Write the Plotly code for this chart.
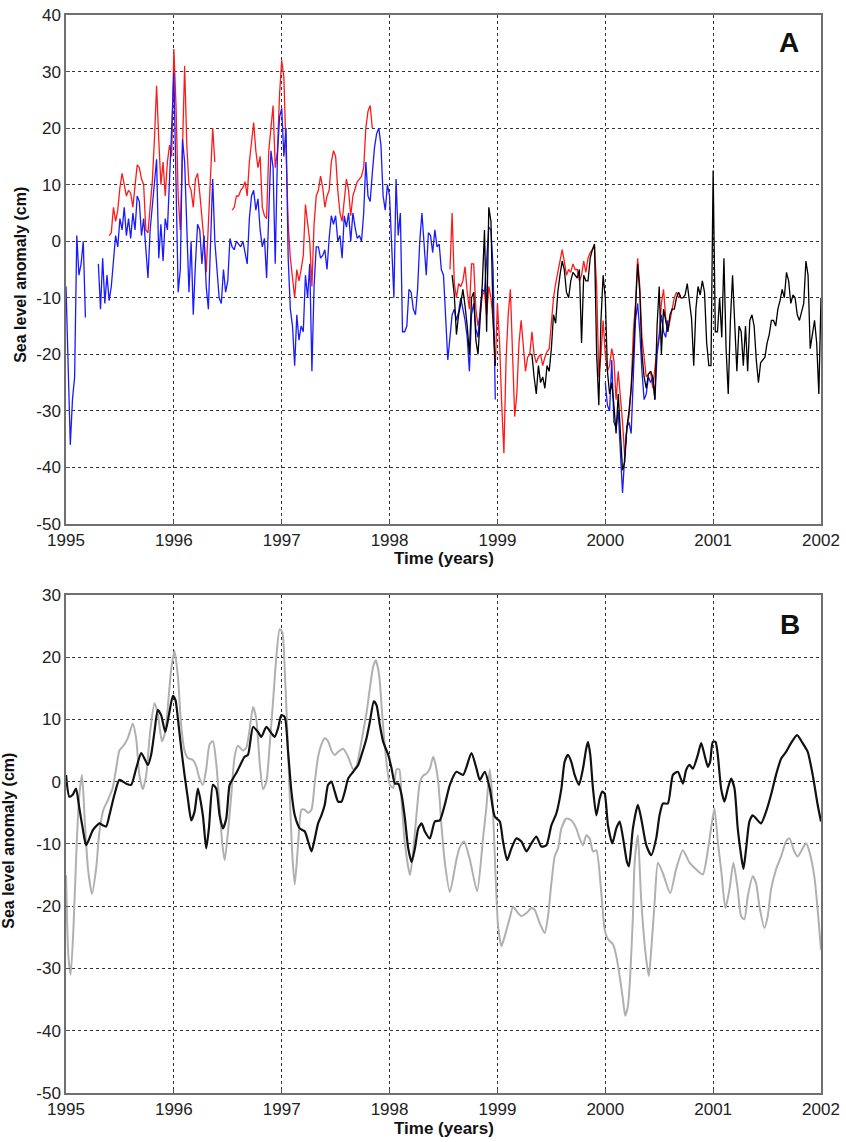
import plotly.graph_objects as go

# ---------------- Panel A : noisy series on a regular time grid ----------------
A_T0 = 1995.0      # first sample (years)
A_DT = 0.02        # sample spacing (years)

blue_a = [
    -8, -20, -36, -28, -24, 1, -6, -4, 0, -13.5,
    None, None, None, None, None, -4, -12, -3, -11, -6,
    -10.5, -8, -3.5, 1, -1, 4, 2, 6, 1, 4,
    0.5, 5, 2, 8, 7, 1, 4, -1, -6.5, 2,
    6, 10, 14.5, -3, 3, -3.5, 4, 2, 10, 20,
    29.8, 12, -9, -5, 18, 14, 3, -9, 0, -13,
    -4, 3, 2, -4, 1, -8, -12, -1, 11, 0,
    -6, -10, -11, -5, -9, -7, 0.5, -1, -1.5, 0,
    -0.5, -1, 0, -2, -4, 4, 8, 9, 5.5, 7.5,
    2, -1, 0.5, -6.5, 4, 16, 13, -4, 15, 22,
    23.5, 15, 20, -3, -12, -15, -22, -13, -17.5, -15,
    -16, -6, -10, -4, -23, -8, -1, -1, -3, -2.5,
    -1.5, -5, 0.5, 4.5, 3, 4.5, 0, 1, -3, 4.5,
    2.5, 5, 0, 5, 2.5, 0.5, 1, 0, 5, 14,
    8, 7, 12, 16.5, 19, 20, 17, 8, 5.5, 10,
    8, -2, -10, 11, 1, 5, -16, -16, -15, -8.5,
    -9, -12, -13, -8.5, 0, 5, -1, -6, 1.5, 1,
    -2, 2, -1, -0.5, -5, -6, -13.5, -21, -17, -13,
    -12, -14, -12.5, -10, -12, -14, -17, -23, -13, -11,
    -15.5, -17, -12, -8.5, -9, -3, 2.5, 2, -5, -28,
] + [None] * 50 + [
    -25, -29, -30, -21, -32, -33, -30, -37, -44.5, -38,
    -33, -32, -34, -24, -14, -11, -16, -23, -28, -27,
    -24, -25, -24, -28, -20, -17, -13, -16, -17, -14,
]

red_a = [None] * 20 + [
    1, 1.5, 6, 3.5, 5.5, 9.5, 12, 10, 8, 9,
    8.5, 6, 10, 13.5, 13, 11, 10, 2, 1.5, 6,
    10.5, 18, 27.5, 18, 10, 14, 8, 14, 17, 15,
    34, 24, 8, 2, 18, 31, 17, 10, 9, 6,
    11, 12, 8.5, 4.5, 0, -5.5, 3, 14, 20, 14,
] + [None] * 7 + [
    5.5, 6, 8, 8, 9, 9.5, 10.5, 8, 14, 18, 21, 16, 13, 15,
    6, 4.5, 4, 16, 20.5, 24, 13, 16, 26, 32,
    29, 17, 3, -3, -6, -10, -5, -7, -5, -2.5,
    6.5, 3, 0, -8, 3, 8, 9, 11.5, 9.5, 6,
    8, 9, 14, 16, 15, 9, 5, 3.5, 7.5, 11,
    9, 4.5, 8, 9.5, 10.5, 11, 11.5, 13, 20, 23,
    24, 20,
] + [None] * 35 + [
    -5, 5,
    -7.5, -10, -7.5, -8, -7, -4.5, -9, -12, -4, -4,
    -12, -15, -13, -9.5, -9, -13, -8, -10, -14, -22,
    -11, -18, -29, -37.5, -21, -13, -8.5, -19, -31, -27,
    -18, -14, -19, -23, -20.5, -20, -16, -20, -21.5, -20.5,
    -20, -22, -20.5, -19.5, -19, -15, -10, -7.5, -5.5, -4,
    -1.5, -3.5, -6, -5, -5.5, -4, -5, -5, -7, -6,
    -3.5, -5.5, -3, -2, -1.5, -1, -8, -24, -20, -14,
    -20, -23, -22, -19, -21, -28, -23, -27, -32, -38,
    -33, -31, -26, -16, -11, -3, -8, -17, -20, -24,
    -23.5, -23, -26, -22, -19, -16.5, -11, -8.5, -13.5, -16,
    -14, -11.5, -10, -9, -10, -9.5,
]

black_a = [None] * 179 + [
    -6, -9.5, -16.5, -13, -11, -8.5, -11.5, -15, -20, -10,
    -9, -17.5, -20, -13, -7.5, 2, -16, 6, 3.5, -14, -22,
] + [None] * 15 + [
    -20, -20, -24, -27, -22,
    -25, -24, -26, -22, -23, -19, -13, -14.5, -9, -6,
    -3.5, -5, -9, -10, -7, -5.5, -6, -6.5, -5, -18,
    -6, -7, -7, -3, -1.5, -0.5, -20, -29, -14, -6,
    -10, -23, -27, -25, -29, -34, -27, -33, -40.5, -39,
    -33, -30, -26, -20, -13, -4, -9, -20, -24, -26,
    -23.5, -23, -24, -28, -15, -8, -20, -12, -14, -16,
    -13, -12, -12, -10, -9, -10, -10, -9.5, -7.5, -10.5,
    -13.7, -22, -12, -8, -9.5, -7, -9, -18, -22, -22,
    12.5, -16, -16, -10, -17, -3, -19, -27, -14, -6,
    -16, -23, -15, -16, -22, -15, -23, -14, -13, -15,
    -21, -25, -21.5, -21, -20.5, -18, -16.5, -14, -14, -15,
    -12, -10.5, -8.5, -10, -5.5, -7, -11, -9.5, -10, -13,
    -14, -12.5, -11, -3.5, -6, -19, -16.5, -14, -18, -27,
    -10,
]

# ---------------- Panel B : smoothed series ----------------
years_b_black = [
    1995.000, 1995.031, 1995.062, 1995.093, 1995.124, 1995.155, 1995.186, 1995.217, 1995.248, 1995.310,
    1995.341, 1995.372, 1995.402, 1995.449, 1995.495, 1995.557, 1995.604, 1995.650, 1995.697, 1995.728,
    1995.759, 1995.789, 1995.820, 1995.851, 1995.882, 1995.920, 1995.954, 1995.991, 1996.015, 1996.037,
    1996.068, 1996.099, 1996.130, 1996.161, 1996.192, 1996.223, 1996.269, 1996.300, 1996.325, 1996.362,
    1996.393, 1996.424, 1996.455, 1996.486, 1996.517, 1996.548, 1996.585, 1996.616, 1996.656, 1996.687,
    1996.734, 1996.780, 1996.811, 1996.858, 1996.904, 1996.935, 1996.966, 1996.997, 1997.028, 1997.059,
    1997.090, 1997.121, 1997.167, 1997.214, 1997.245, 1997.276, 1997.307, 1997.337, 1997.368, 1997.399,
    1997.430, 1997.461, 1997.492, 1997.523, 1997.554, 1997.585, 1997.616, 1997.663, 1997.709, 1997.740,
    1997.786, 1997.817, 1997.854, 1997.879, 1997.910, 1997.941, 1997.988, 1998.019, 1998.050, 1998.080,
    1998.111, 1998.142, 1998.173, 1998.204, 1998.235, 1998.266, 1998.297, 1998.327, 1998.373, 1998.420,
    1998.466, 1998.512, 1998.559, 1998.620, 1998.682, 1998.759, 1998.806, 1998.836, 1998.883, 1998.929,
    1998.975, 1999.022, 1999.052, 1999.090, 1999.130, 1999.176, 1999.222, 1999.269, 1999.315, 1999.361,
    1999.407, 1999.454, 1999.500, 1999.546, 1999.593, 1999.623, 1999.654, 1999.685, 1999.716, 1999.756,
    1999.793, 1999.824, 1999.840, 1999.861, 1999.886, 1999.917, 1999.948, 1999.972, 1999.994, 2000.025,
    2000.065, 2000.102, 2000.133, 2000.170, 2000.201, 2000.219, 2000.256, 2000.302, 2000.333, 2000.380,
    2000.426, 2000.472, 2000.503, 2000.534, 2000.580, 2000.627, 2000.673, 2000.719, 2000.750, 2000.781,
    2000.812, 2000.858, 2000.889, 2000.920, 2000.951, 2000.972, 2000.997, 2001.022, 2001.043, 2001.074,
    2001.105, 2001.136, 2001.167, 2001.198, 2001.228, 2001.259, 2001.281, 2001.306, 2001.336, 2001.367,
    2001.398, 2001.444, 2001.491, 2001.537, 2001.583, 2001.630, 2001.676, 2001.722, 2001.778, 2001.830,
    2001.877, 2001.923, 2001.969, 2002.000,
]
black_b = [
    1.1, -2.4, -2.1, -1.1, -4.3, -7.5, -10.2, -9.1, -7.8, -6.7,
    -7, -7.2, -5.4, -2.1, 0.3, -0.3, -0.5, 2.1, 4.6, 3.7,
    2.7, 4.3, 8, 11.5, 10.7, 8, 10.7, 13.8, 13.1, 10.2,
    5.4, 1.1, -2.7, -6.2, -4.8, -1.1, -5.4, -10.7, -7.5, -0.5,
    -1.1, -5.4, -7.5, -5.9, -0.5, 0.5, 1.6, 2.7, 4, 4.3,
    8.8, 8, 7.2, 8.8, 7.8, 7.2, 8.6, 10.7, 10.4, 4.8,
    -1.6, -5.4, -7.5, -8, -9.6, -11.2, -9.1, -6.7, -5.4, -3.7,
    -0.5, 0, -1.6, -3.2, -3.2, -1.6, 0.5, 1.6, 2.7, 4.3,
    7, 9.6, 12.9, 12.3, 9.1, 6.4, 4.3, 2.1, -0.3, -0.3,
    -2.1, -5.9, -10.7, -12.9, -10.7, -7.5, -6.7, -8, -9.1, -6.4,
    -6.2, -3.7, -0.5, 1.6, 1.1, 4.6, 2.1, 0.3, 1.6, -1.1,
    -5.6, -6.4, -9.6, -12.6, -10.7, -9.1, -9.6, -11.2, -9.9, -8.8,
    -10.4, -10.2, -7, -5.1, -1.1, 3.2, 4.3, 3.2, 1.1, -0.5,
    2.1, 5.4, 6.4, 4.3, -1.1, -5.4, -2.7, -1.6, -1.9, -7,
    -9.9, -7.5, -6.4, -9.6, -12.9, -13.6, -7.5, -3.7, -5.9, -10.2,
    -11.8, -9.1, -5.4, -3.5, -3.5, 1.1, 1.6, -0.3, 1.9, 2.7,
    2.1, 4.3, 6.2, 4.3, 2.4, 3.2, 6.4, 6.4, 4.3, -1.1,
    -3.2, -1.1, 0.5, -1.1, -7.5, -11.8, -14, -10.7, -6.4, -5.4,
    -5.9, -6.7, -4.8, -2.1, 1.1, 3.7, 4.8, 6.2, 7.5, 6.2,
    4.8, 1.1, -3.7, -6.4,
]

years_b_gray = [
    1995.000, 1995.022, 1995.043, 1995.068, 1995.099, 1995.124, 1995.149, 1995.173, 1995.204, 1995.241,
    1995.279, 1995.310, 1995.347, 1995.387, 1995.433, 1995.464, 1995.495, 1995.542, 1995.573, 1995.619,
    1995.650, 1995.681, 1995.712, 1995.743, 1995.780, 1995.820, 1995.851, 1995.889, 1995.920, 1995.944,
    1995.975, 1996.006, 1996.037, 1996.068, 1996.099, 1996.130, 1996.176, 1996.207, 1996.238, 1996.269,
    1996.300, 1996.331, 1996.362, 1996.393, 1996.424, 1996.449, 1996.471, 1996.502, 1996.533, 1996.563,
    1996.594, 1996.641, 1996.672, 1996.703, 1996.734, 1996.765, 1996.796, 1996.827, 1996.858, 1996.889,
    1996.920, 1996.950, 1996.981, 1997.006, 1997.028, 1997.050, 1997.074, 1997.099, 1997.121, 1997.152,
    1997.183, 1997.214, 1997.245, 1997.276, 1997.307, 1997.337, 1997.368, 1997.399, 1997.430, 1997.461,
    1997.492, 1997.523, 1997.570, 1997.616, 1997.663, 1997.693, 1997.724, 1997.755, 1997.786, 1997.817,
    1997.848, 1997.873, 1997.904, 1997.935, 1997.972, 1998.003, 1998.034, 1998.065, 1998.090, 1998.111,
    1998.142, 1998.189, 1998.220, 1998.251, 1998.282, 1998.312, 1998.343, 1998.373, 1998.404, 1998.420,
    1998.451, 1998.481, 1998.512, 1998.559, 1998.620, 1998.651, 1998.691, 1998.744, 1998.812, 1998.867,
    1998.898, 1998.929, 1998.954, 1998.985, 1999.006, 1999.037, 1999.068, 1999.114, 1999.145, 1999.191,
    1999.222, 1999.269, 1999.315, 1999.346, 1999.392, 1999.438, 1999.469, 1999.500, 1999.531, 1999.562,
    1999.593, 1999.639, 1999.685, 1999.731, 1999.762, 1999.793, 1999.824, 1999.855, 1999.886, 1999.917,
    1999.963, 1999.994, 2000.025, 2000.071, 2000.102, 2000.133, 2000.164, 2000.185, 2000.210, 2000.231,
    2000.256, 2000.272, 2000.302, 2000.333, 2000.380, 2000.404, 2000.426, 2000.457, 2000.488, 2000.534,
    2000.602, 2000.657, 2000.719, 2000.781, 2000.843, 2000.904, 2000.951, 2000.981, 2001.012, 2001.043,
    2001.074, 2001.114, 2001.151, 2001.188, 2001.228, 2001.259, 2001.290, 2001.321, 2001.367, 2001.398,
    2001.429, 2001.475, 2001.506, 2001.537, 2001.583, 2001.630, 2001.676, 2001.707, 2001.753, 2001.784,
    2001.830, 2001.861, 2001.892, 2001.938, 2001.969, 2002.000,
]
gray_b = [
    -15, -28, -31, -24, -10, -2, 1.1, -6, -14, -18,
    -14, -8, -4.5, -3, -1, 2, 5, 6, 7, 9.3,
    7, 1, -1.2, 1, 8, 12.6, 11, 6.5, 8, 12,
    18, 21, 17, 9, 5, 3.8, 3.5, 2.5, 0.5, -0.5,
    2, 6, 6.5, 3, -4, -10, -12.6, -8, -2, 4,
    5.8, 5, 5.5, 8.5, 12, 10, 3, -1.2, 0, 6,
    13, 20, 24.5, 24, 18, 9, -2, -12, -16.5, -10,
    -4.5, -4.5, -5, -4.5, 0, 4, 6, 7, 6.5, 5,
    4.3, 4.8, 5.3, 4, 2, 2.5, 5, 8, 11, 15,
    18.5, 19.5, 17, 10, 3, -0.5, -1, 2, 2, -3,
    -10, -15, -11, -5, 0, 1, 1.3, 2.1, 4, 3.2,
    0, -7, -12.9, -17.7, -12.5, -10.5, -9.6, -12.5, -17.6, -9,
    -4, 2, -3, -16, -23.2, -26.4, -24.8, -21.9, -20.1, -21.1,
    -21.6, -21.1, -20.3, -20.6, -22.7, -24.3, -21.6, -16.3, -12, -10.7,
    -7.5, -5.9, -6.2, -7.5, -9.1, -10.2, -8.6, -9.1, -11.2, -11,
    -17.9, -23.7, -25.3, -26.1, -28, -31.2, -35, -37.6, -36, -31.2,
    -21.6, -13, -8.6, -19, -28.6, -31.2, -27, -19.5, -13, -14.7,
    -17.9, -14, -11, -13, -14.1, -14.9, -11, -7.5, -4.3, -9.6,
    -14.1, -20.3, -17.3, -13, -17.3, -21.6, -22.1, -18.4, -15.2, -16.3,
    -20, -23.5, -21.6, -17.3, -14.1, -12, -9.6, -9.1, -11.2, -12,
    -10.7, -9.9, -11.2, -15.2, -20.5, -27,
]

x_ticks = [1995, 1996, 1997, 1998, 1999, 2000, 2001, 2002]
y_ticks_a = [-50, -40, -30, -20, -10, 0, 10, 20, 30, 40]
y_ticks_b = [-50, -40, -30, -20, -10, 0, 10, 20, 30]


def grid_years(vals):
    return [round(A_T0 + i * A_DT, 4) for i in range(len(vals))]


FONT = "Liberation Sans, Arial, Helvetica, sans-serif"

fig = go.Figure()

fig.add_trace(go.Scatter(x=grid_years(red_a), y=red_a, mode="lines",
                         line=dict(color="#ff1a1a", width=1.3), connectgaps=False,
                         xaxis="x", yaxis="y", showlegend=False))
fig.add_trace(go.Scatter(x=grid_years(blue_a), y=blue_a, mode="lines",
                         line=dict(color="#1a1aff", width=1.3), connectgaps=False,
                         xaxis="x", yaxis="y", showlegend=False))
fig.add_trace(go.Scatter(x=grid_years(black_a), y=black_a, mode="lines",
                         line=dict(color="#000000", width=1.3), connectgaps=False,
                         xaxis="x", yaxis="y", showlegend=False))

fig.add_trace(go.Scatter(x=years_b_gray, y=gray_b, mode="lines",
                         line=dict(color="#b0b0b0", width=2, shape="spline", smoothing=0.6),
                         xaxis="x2", yaxis="y2", showlegend=False))
fig.add_trace(go.Scatter(x=years_b_black, y=black_b, mode="lines",
                         line=dict(color="#111111", width=2.2, shape="spline", smoothing=0.6),
                         xaxis="x2", yaxis="y2", showlegend=False))

common = dict(showgrid=True, gridcolor="#333333", griddash="dot", gridwidth=1,
              showline=True, mirror=True, linecolor="#707070", linewidth=1.5,
              ticks="inside", ticklen=4, tickcolor="#555555", zeroline=False,
              automargin=False,
              tickfont=dict(family=FONT, size=17, color="#222222"))

xa = dict(range=[1995, 2002], tickvals=x_ticks, ticktext=[str(v) for v in x_ticks], **common)
fig.update_layout(
    width=846, height=1142, autosize=False,
    margin=dict(l=66, r=25, t=15, b=49, autoexpand=False),
    paper_bgcolor="white", plot_bgcolor="white",
    xaxis=dict(domain=[0, 1], anchor="y", **xa),
    yaxis=dict(domain=[0.5278, 1], anchor="x", range=[-50, 40], tickvals=y_ticks_a,
               ticktext=[str(v) for v in y_ticks_a], **common),
    xaxis2=dict(domain=[0, 1], anchor="y2", **xa),
    yaxis2=dict(domain=[0, 0.462], anchor="x2", range=[-50, 30], tickvals=y_ticks_b,
                ticktext=[str(v) for v in y_ticks_b], **common),
)

title_font = dict(family=FONT, size=17, color="#111111")
ytitle_font = dict(family=FONT, size=16, color="#111111")
fig.add_annotation(text="<b>Time (years)</b>", xref="paper", yref="paper", x=0.5, y=0.4954,
                   xanchor="center", yanchor="middle", showarrow=False, font=title_font)
fig.add_annotation(text="<b>Time (years)</b>", xref="paper", yref="paper", x=0.5, y=-0.0325,
                   xanchor="center", yanchor="middle", showarrow=False, font=title_font)
fig.add_annotation(text="<b>Sea level anomaly (cm)</b>", xref="paper", yref="paper",
                   x=-0.0596, y=0.7590, textangle=-90, xanchor="center", yanchor="middle",
                   showarrow=False, font=ytitle_font)
fig.add_annotation(text="<b>Sea level anomaly (cm)</b>", xref="paper", yref="paper",
                   x=-0.0755, y=0.2340, textangle=-90, xanchor="center", yanchor="middle",
                   showarrow=False, font=ytitle_font)
fig.add_annotation(text="<b>A</b>", xref="x", yref="y", x=2001.7, y=35.2,
                   xanchor="center", yanchor="middle", showarrow=False,
                   font=dict(family=FONT, size=28, color="#111111"))
fig.add_annotation(text="<b>B</b>", xref="x2", yref="y2", x=2001.71, y=25.2,
                   xanchor="center", yanchor="middle", showarrow=False,
                   font=dict(family=FONT, size=28, color="#111111"))

fig.write_html("out.html", config={"displayModeBar": False},
               post_script="document.body.style.margin='0';")
